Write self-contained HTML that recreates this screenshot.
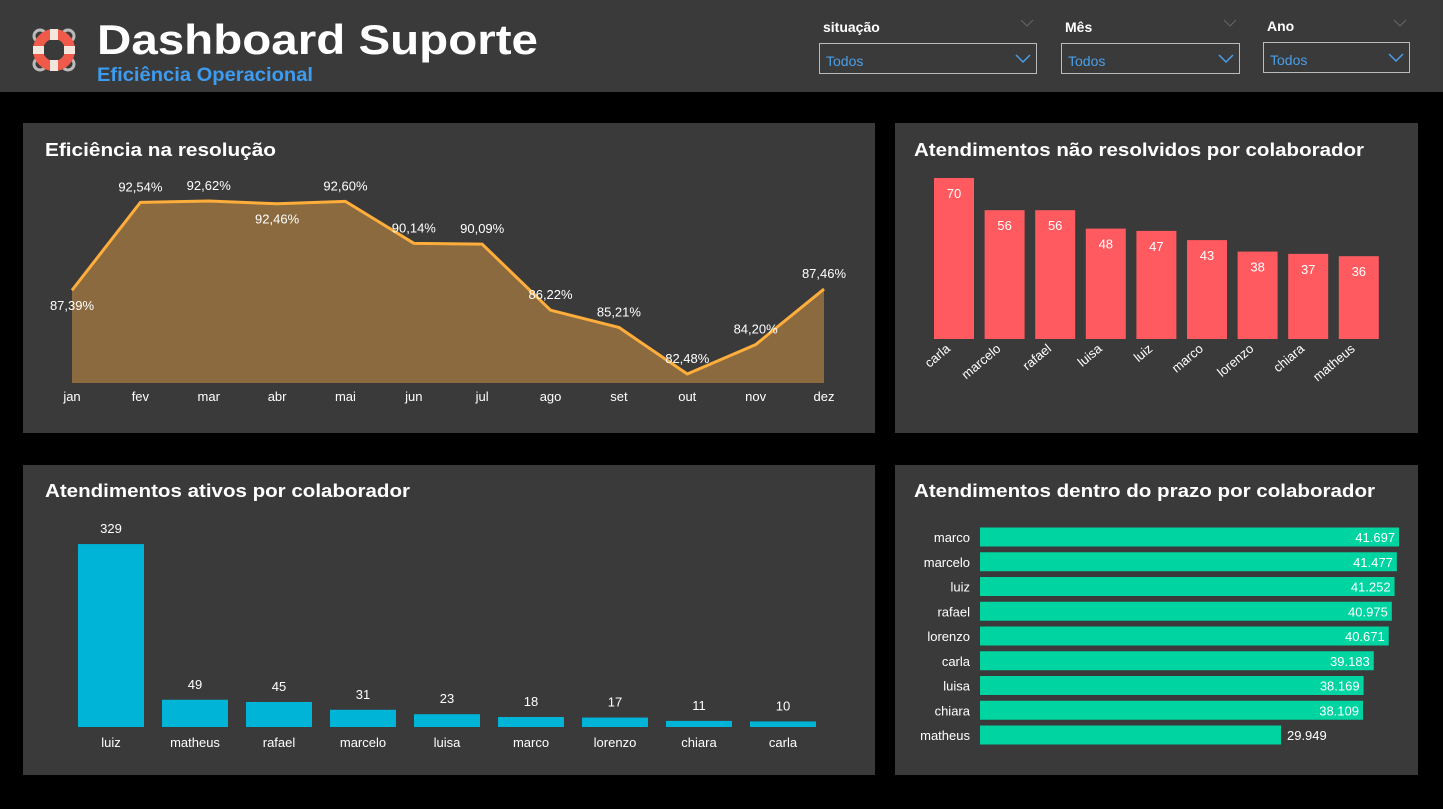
<!DOCTYPE html>
<html><head><meta charset="utf-8">
<style>
html,body{margin:0;padding:0;background:#000;width:1443px;height:809px;overflow:hidden;font-family:"Liberation Sans","DejaVu Sans",sans-serif}
svg{position:absolute;left:0;top:0}
</style></head>
<body>
<svg id="s" width="1443" height="809" xmlns="http://www.w3.org/2000/svg" font-family="Liberation Sans, DejaVu Sans, sans-serif">
<rect x="0" y="0" width="1443" height="92" fill="#3a3a3a"/>
<g>
<circle cx="40" cy="36" r="6" fill="none" stroke="#bbb" stroke-width="3"/>
<circle cx="68" cy="36" r="6" fill="none" stroke="#bbb" stroke-width="3"/>
<circle cx="40" cy="64" r="6" fill="none" stroke="#bbb" stroke-width="3"/>
<circle cx="68" cy="64" r="6" fill="none" stroke="#bbb" stroke-width="3"/>
<circle cx="54" cy="50" r="16" fill="none" stroke="#f05a4a" stroke-width="10"/>
<rect x="50" y="29" width="8" height="11" fill="#f3e6dc"/><rect x="50" y="60" width="8" height="11" fill="#f3e6dc"/>
<rect x="33" y="46" width="11" height="8" fill="#f3e6dc"/><rect x="64" y="46" width="11" height="8" fill="#f3e6dc"/>
</g>
<text x="97" y="54" font-size="42" font-weight="bold" fill="#fff" textLength="441" lengthAdjust="spacingAndGlyphs">Dashboard Suporte</text>
<text x="97" y="81" font-size="19" font-weight="bold" fill="#3d9bf0" textLength="216" lengthAdjust="spacingAndGlyphs">Eficiência Operacional</text>

<g>
<text x="823" y="32" font-size="14" font-weight="bold" fill="#fff">situação</text>
<path d="M1021 20l6 6 6-6" fill="none" stroke="#666" stroke-width="1"/>
<rect x="819.5" y="43.5" width="217" height="30" fill="none" stroke="#bbb"/>
<text x="826" y="66" font-size="14" fill="#4a9fe8">Todos</text>
<path d="M1016 55l7 7 7-7" fill="none" stroke="#4a9fe8" stroke-width="1.5"/>
</g>
<g>
<text x="1065" y="32" font-size="14" font-weight="bold" fill="#fff">Mês</text>
<path d="M1224 20l6 6 6-6" fill="none" stroke="#666" stroke-width="1"/>
<rect x="1061.5" y="43.5" width="178" height="30" fill="none" stroke="#bbb"/>
<text x="1068" y="66" font-size="14" fill="#4a9fe8">Todos</text>
<path d="M1219 55l7 7 7-7" fill="none" stroke="#4a9fe8" stroke-width="1.5"/>
</g>
<g>
<text x="1267" y="31" font-size="14" font-weight="bold" fill="#fff">Ano</text>
<path d="M1394 20l6 6 6-6" fill="none" stroke="#666" stroke-width="1"/>
<rect x="1263.5" y="42.5" width="146" height="30" fill="none" stroke="#bbb"/>
<text x="1270" y="65" font-size="14" fill="#4a9fe8">Todos</text>
<path d="M1389 54l7 7 7-7" fill="none" stroke="#4a9fe8" stroke-width="1.5"/>
</g>

<rect x="23" y="123" width="852" height="310" fill="#3a3a3a"/>
<rect x="895" y="123" width="523" height="310" fill="#3a3a3a"/>
<rect x="23" y="465" width="852" height="310" fill="#3a3a3a"/>
<rect x="895" y="465" width="523" height="310" fill="#3a3a3a"/>
<text x="45" y="156" font-size="18" font-weight="bold" fill="#fff" textLength="231" lengthAdjust="spacingAndGlyphs">Eficiência na resolução</text>
<text x="914" y="156" font-size="18" font-weight="bold" fill="#fff" textLength="450" lengthAdjust="spacingAndGlyphs">Atendimentos não resolvidos por colaborador</text>
<text x="45" y="497" font-size="18" font-weight="bold" fill="#fff" textLength="365" lengthAdjust="spacingAndGlyphs">Atendimentos ativos por colaborador</text>
<text x="914" y="497" font-size="18" font-weight="bold" fill="#fff" textLength="461" lengthAdjust="spacingAndGlyphs">Atendimentos dentro do prazo por colaborador</text>
<g id="charts"></g>
</svg>
<script>
const months=["jan","fev","mar","abr","mai","jun","jul","ago","set","out","nov","dez"];
const effValues=[87.39,92.54,92.62,92.46,92.60,90.14,90.09,86.22,85.21,82.48,84.20,87.46];
const effLabelBelow=[1,0,0,1,0,0,0,0,0,0,0,0];
const unresNames=["carla","marcelo","rafael","luisa","luiz","marco","lorenzo","chiara","matheus"];
const unresValues=[70,56,56,48,47,43,38,37,36];
const activeNames=["luiz","matheus","rafael","marcelo","luisa","marco","lorenzo","chiara","carla"];
const activeValues=[329,49,45,31,23,18,17,11,10];
const onTimeNames=["marco","marcelo","luiz","rafael","lorenzo","carla","luisa","chiara","matheus"];
const onTimeValues=[41697,41477,41252,40975,40671,39183,38169,38109,29949];

const NS="http://www.w3.org/2000/svg";
const root=document.getElementById('charts');
function mk(tag,attrs,text){const e=document.createElementNS(NS,tag);for(const k in attrs)e.setAttribute(k,attrs[k]);if(text!==undefined)e.textContent=text;root.appendChild(e);return e;}
function fmtPct(v){return v.toFixed(2).replace('.',',')+'%';}
function fmtK(v){return v.toLocaleString('de-DE');}

// Line chart
const lx=i=>72+i*(824-72)/(months.length-1);
const ly=v=>374-(v-82.48)*17.06;
const base=383;
let d='M'+lx(0)+' '+base;
effValues.forEach((v,i)=>d+=' L'+lx(i)+' '+ly(v));
d+=' L'+lx(effValues.length-1)+' '+base+' Z';
let area=mk('path',{d:d,fill:'#8a6a3e'});


let ld='';effValues.forEach((v,i)=>ld+=(i?' L':'M')+lx(i)+' '+ly(v));
let line=mk('path',{d:ld,fill:'none',stroke:'#ffad3b','stroke-width':3,'stroke-linejoin':'round'});


effValues.forEach((v,i)=>{
  const y=effLabelBelow[i]?ly(v)+20:ly(v)-11;
  let t=mk('text',{x:lx(i),y:y,'font-size':13,fill:'#fff','text-anchor':'middle'},fmtPct(v));
  
  
  let m=mk('text',{x:lx(i),y:401,'font-size':13,fill:'#fff','text-anchor':'middle'},months[i]);
  
  
});

// Unresolved bar chart
const ux=i=>954+i*50.6;
const uy=v=>339-v*2.3;
unresValues.forEach((v,i)=>{
  let r=mk('rect',{x:ux(i)-20,y:uy(v),width:40,height:339-uy(v),fill:'#ff5a5f'});
  
  
  let t=mk('text',{x:ux(i),y:uy(v)+20,'font-size':13,fill:'#fff','text-anchor':'middle'},v);
  
  
  const lxp=ux(i)-3;
  let n=mk('text',{x:lxp,y:350,'font-size':13,fill:'#fff','text-anchor':'end',transform:'rotate(-40 '+lxp+' 350)'},unresNames[i]);
  
  
});

// Active bar chart
const ax=i=>111+i*84;
const ay=v=>727-v*0.556;
activeValues.forEach((v,i)=>{
  let r=mk('rect',{x:ax(i)-33,y:ay(v),width:66,height:727-ay(v),fill:'#00b4d8'});
  
  
  let t=mk('text',{x:ax(i),y:ay(v)-11,'font-size':13,fill:'#fff','text-anchor':'middle'},v);
  
  
  let n=mk('text',{x:ax(i),y:747,'font-size':13,fill:'#fff','text-anchor':'middle'},activeNames[i]);
  
  
});

// On-time horizontal bars
const oy=i=>537+i*24.75;
const ow=v=>v*0.01005;
onTimeValues.forEach((v,i)=>{
  let r=mk('rect',{x:980,y:oy(i)-9.5,width:ow(v),height:19,fill:'#00d4a0'});
  
  
  const inside=ow(v)>350;
  let t=mk('text',{x:inside?980+ow(v)-4:980+ow(v)+6,y:oy(i)+5,'font-size':13,fill:'#fff','text-anchor':inside?'end':'start'},fmtK(v));
  
  
  let n=mk('text',{x:970,y:oy(i)+5,'font-size':13,fill:'#fff','text-anchor':'end'},onTimeNames[i]);
  
  
});
</script>
</body></html>
